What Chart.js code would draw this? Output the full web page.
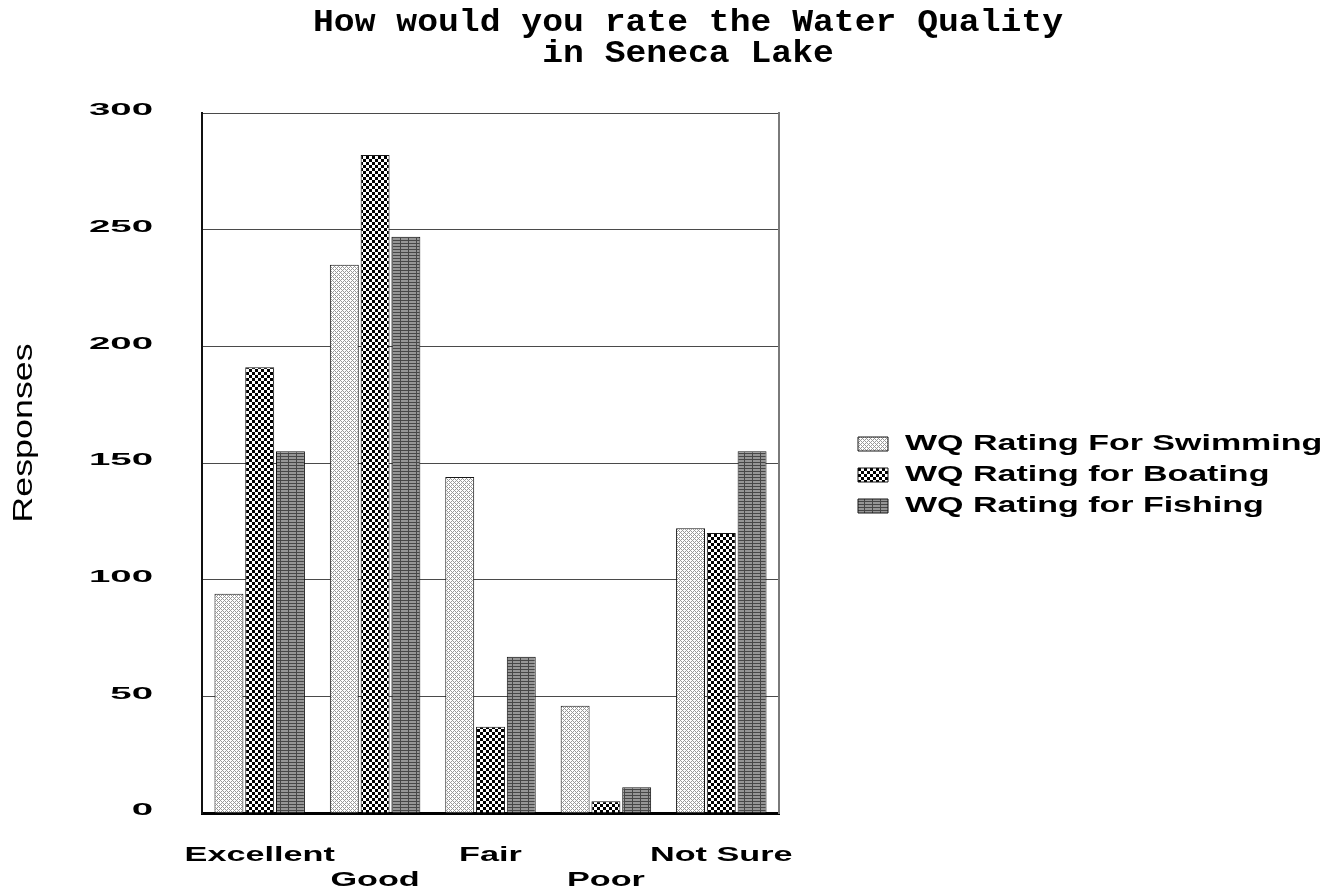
<!DOCTYPE html>
<html>
<head>
<meta charset="utf-8">
<title>Water Quality in Seneca Lake</title>
<script src="https://cdn.jsdelivr.net/npm/chart.js@4.4.1/dist/chart.umd.min.js"></script>
<style>
  html, body { margin: 0; padding: 0; background: #ffffff; }
  canvas { display: block; }
</style>
</head>
<body>
<canvas id="chart" width="1340" height="895"></canvas>
<script>
// ---- survey data ----
const categories = ['Excellent', 'Good', 'Fair', 'Poor', 'Not Sure'];
const seriesNames = ['WQ Rating For Swimming', 'WQ Rating for Boating', 'WQ Rating for Fishing'];
const swimming = [94, 235, 144, 46, 122];
const boating = [191, 282, 37, 5, 120];
const fishing = [155, 247, 67, 11, 155];
const yTickValues = [0, 50, 100, 150, 200, 250, 300];
const titleLines = ['How would you rate the Water Quality', 'in Seneca Lake'];
const yAxisTitle = 'Responses';

const SANS = "'Liberation Sans', Arial, sans-serif";
const MONO = "'Liberation Mono', 'Courier New', monospace";

// Alternate category labels onto two rows so the wide words don't collide.
const xLabels = categories.map((c, i) => (i % 2 === 0 ? [c] : ['', c]));

// ---- fill patterns for the three series ----
function makePattern(w, h, paint) {
  const c = document.createElement('canvas');
  c.width = w; c.height = h;
  const g = c.getContext('2d');
  paint(g, w, h);
  return g.createPattern(c, 'repeat');
}
const swimFill = makePattern(4, 4, (g) => {
  g.fillStyle = '#ffffff'; g.fillRect(0, 0, 4, 4);
  g.fillStyle = '#999999';
  for (let i = 0; i < 4; i++) for (let j = 0; j < 4; j++) {
    if ((i + j) % 4 === 0 || (((i - j) % 4) + 4) % 4 === 0) g.fillRect(i, j, 1, 1);
  }
});
const boatFill = makePattern(6, 6, (g) => {
  g.fillStyle = '#ffffff'; g.fillRect(0, 0, 6, 6);
  g.fillStyle = '#000000';
  g.fillRect(0, 0, 3, 3); g.fillRect(3, 3, 3, 3);
});
const fishFill = makePattern(8, 3, (g) => {
  g.fillStyle = '#969696'; g.fillRect(0, 0, 8, 3);
  g.fillStyle = '#474747';
  g.fillRect(0, 0, 8, 1); g.fillRect(0, 0, 1, 3);
});

// ---- wide lettering: per-font horizontal stretch and nudge ----
function textShape(font) {
  const m = /(\d+(?:\.\d+)?)px/.exec(font);
  const size = m ? parseFloat(m[1]) : 0;
  if (/Mono/i.test(font)) return { sx: 1.12, dx: 18, dy: 1 };   // chart title
  if (size === 16) return { sx: 2.4, dx: 0, dy: -2 };            // y tick labels
  if (size === 21) return { sx: 1.63, dx: 0, dy: 0 };            // category labels
  if (size === 22) return { sx: 1.545, dx: 6, dy: 0 };           // legend labels
  if (size === 28) return { sx: 1.28, dx: 30, dy: 0 };           // y axis title
  return { sx: 1, dx: 0, dy: 0 };
}
function installWideText(ctx) {
  const fill = ctx.fillText.bind(ctx);
  const measure = ctx.measureText.bind(ctx);
  ctx.fillText = function (text, x, y, maxWidth) {
    const s = textShape(this.font);
    this.save();
    this.translate(x + s.dx, y + s.dy);
    this.scale(s.sx, 1);
    if (maxWidth === undefined || maxWidth === null) fill(text, 0, 0);
    else fill(text, 0, 0, maxWidth / s.sx);
    this.restore();
  };
  ctx.measureText = function (text) {
    const s = textShape(this.font);
    const m = measure(text);
    if (s.sx === 1) return m;
    return {
      width: m.width * s.sx,
      actualBoundingBoxLeft: m.actualBoundingBoxLeft * s.sx,
      actualBoundingBoxRight: m.actualBoundingBoxRight * s.sx,
      actualBoundingBoxAscent: m.actualBoundingBoxAscent,
      actualBoundingBoxDescent: m.actualBoundingBoxDescent,
      fontBoundingBoxAscent: m.fontBoundingBoxAscent,
      fontBoundingBoxDescent: m.fontBoundingBoxDescent
    };
  };
}

// Keep the legend column a fixed width so the plot keeps its proportions.
const LEGEND_WIDTH = 491;
const legendWidthPlugin = {
  id: 'legendWidth',
  beforeLayout(chart) {
    const lg = chart.legend;
    if (lg && !lg.__fixedWidth) {
      const fit = lg.fit;
      lg.fit = function () { fit.call(this); this.width = LEGEND_WIDTH; };
      lg.__fixedWidth = true;
    }
  }
};

const canvas = document.getElementById('chart');
const ctx = canvas.getContext('2d');
installWideText(ctx);

Chart.defaults.font.family = SANS;
Chart.defaults.color = '#000000';

new Chart(ctx, {
  type: 'bar',
  data: {
    labels: xLabels,
    datasets: [
      { label: seriesNames[0], data: swimming, backgroundColor: swimFill },
      { label: seriesNames[1], data: boating, backgroundColor: boatFill },
      { label: seriesNames[2], data: fishing, backgroundColor: fishFill }
    ].map(d => Object.assign(d, {
      borderColor: '#151515', borderWidth: 1,
      categoryPercentage: 0.8, barPercentage: 0.94
    }))
  },
  options: {
    responsive: false,
    maintainAspectRatio: false,
    devicePixelRatio: 1,
    animation: false,
    events: [],
    layout: { padding: 0 },
    scales: {
      x: {
        grid: { display: false, drawTicks: false },
        border: { display: true, color: '#000000', width: 3 },
        ticks: {
          font: { family: SANS, weight: 'bold', size: 21, lineHeight: 25 / 21 },
          color: '#000000', padding: 30,
          autoSkip: false, maxRotation: 0, minRotation: 0
        },
        afterFit: (s) => { s.height = 82; }
      },
      y: {
        position: 'left',
        min: 0, max: 300,
        afterBuildTicks: (s) => { s.ticks = yTickValues.map(v => ({ value: v })); },
        grid: { color: '#4a4a4a', lineWidth: 1, drawTicks: false },
        border: { display: true, color: '#111111', width: 2 },
        ticks: {
          font: { family: SANS, weight: 'bold', size: 16 },
          color: '#000000', padding: 49
        },
        title: {
          display: true, text: yAxisTitle, color: '#000000',
          font: { family: SANS, weight: 'normal', size: 28, lineHeight: 1.2 },
          padding: { top: 7, bottom: 0 }
        },
        afterFit: (s) => { s.width = 202; }
      },
      edge: {
        type: 'linear', axis: 'y', position: 'right', display: true,
        grid: { display: false, drawTicks: false },
        ticks: { display: false },
        border: { display: true, color: '#7a7a7a', width: 2 },
        afterFit: (s) => { s.width = 70; }
      }
    },
    plugins: {
      title: {
        display: true,
        text: titleLines,
        color: '#000000',
        font: { family: MONO, weight: 'bold', size: 31, lineHeight: 31 / 31 },
        padding: { top: 6.5, bottom: 44.5 }
      },
      legend: {
        position: 'right',
        align: 'center',
        fullSize: false,
        title: { display: true, text: '', font: { size: 10, lineHeight: 1.2 }, padding: 6 },
        labels: {
          boxWidth: 30, boxHeight: 14, padding: 9,
          color: '#000000',
          font: { family: SANS, weight: 'bold', size: 22 }
        }
      },
      tooltip: { enabled: false }
    }
  },
  plugins: [legendWidthPlugin]
});
</script>
</body>
</html>
